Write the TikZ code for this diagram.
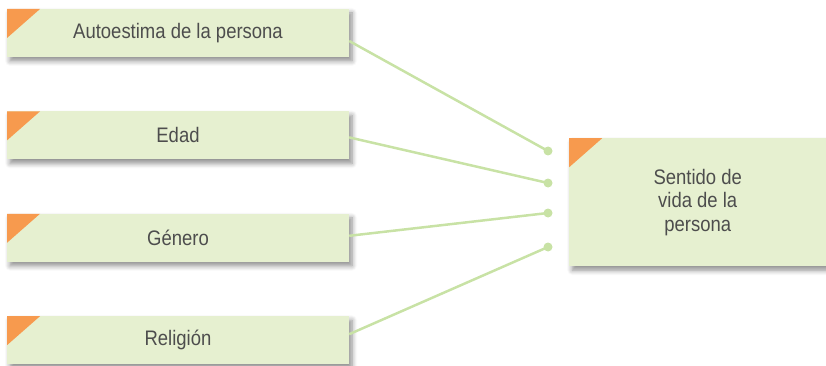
\documentclass[tikz,border=0pt]{standalone}
\usepackage{fontspec}
\setmainfont{Liberation Sans}[FakeStretch=0.88]
\usepackage{tikz}
\usetikzlibrary{positioning,shadows.blur}
\definecolor{ink}{HTML}{4D4D4D}
\definecolor{leaf}{HTML}{E6F0D0}
\definecolor{tab}{HTML}{F79A4E}
\definecolor{wire}{HTML}{C8E2A5}
\tikzset{
  factor/.style={fill=leaf, minimum width=342pt, minimum height=48pt, inner sep=0pt,
                 font=\fontsize{21pt}{23.5pt}\selectfont, align=center, text=ink,
                 blur shadow={shadow xshift=3pt, shadow yshift=-4pt, shadow blur steps=6,
                              shadow opacity=45, shadow blur radius=5pt},
                 path picture={\fill[tab] (path picture bounding box.north west)
                   -- ++(33pt,0pt) -- ++(-33pt,-29pt) -- cycle;}},
  result/.style={factor, minimum width=257pt, minimum height=128pt},
  link/.style={draw=wire, line width=2.5pt},
  dot/.style={fill=wire},
}

\begin{document}
\begin{tikzpicture}[x=1pt, y=-1pt, node distance=54pt]
    \useasboundingbox (0,0) rectangle (826,366);
    \node[factor] (autoestima) at (178,33) {Autoestima de la persona};
    \node[factor, below=of autoestima] (edad) {Edad};
    \node[factor, below=of edad] (genero) {Género};
    \node[factor, below=of genero] (religion) {Religión};
    \node[result, anchor=north west] (sentido) at (569,138) {Sentido de\\vida de la\\persona};
    \coordinate (d1) at (548,151);
    \coordinate (d2) at (548,183);
    \coordinate (d3) at (548,213);
    \coordinate (d4) at (548,247);
    \draw[link] ([yshift=-8pt]autoestima.east) -- (d1);
    \draw[link] ([yshift=-2pt]edad.east) -- (d2);
    \draw[link] ([yshift=2pt]genero.east) -- (d3);
    \draw[link] ([yshift=6pt]religion.east) -- (d4);
    \foreach \d in {d1,d2,d3,d4} \fill[dot] (\d) circle (4.5pt);
  \end{tikzpicture}
\end{document}
